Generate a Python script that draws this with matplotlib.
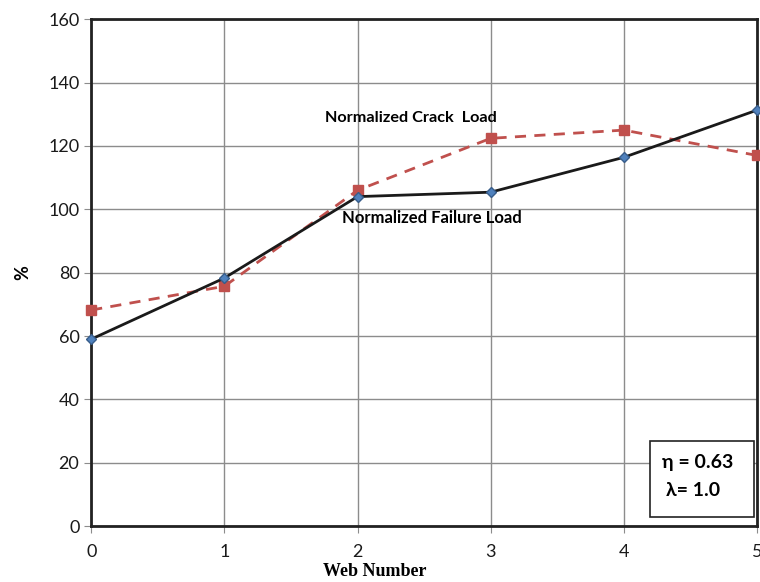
import matplotlib.pyplot as plt
from matplotlib.patches import Rectangle

web_number = [0, 1, 2, 3, 4, 5]
failure_load = [59.0, 78.3, 104.0, 105.4, 116.4, 131.3]
crack_load = [68.2, 75.7, 106.0, 122.4, 125.0, 117.0]
y_ticks = [0, 20, 40, 60, 80, 100, 120, 140, 160]

fig = plt.figure(figsize=(7.6, 5.82), dpi=100)
ax = fig.add_axes([0.12, 0.096, 0.876, 0.871])

ax.plot(web_number, crack_load, color="#C0504D", linestyle=(0, (4, 3)), linewidth=2,
        marker="s", markersize=7, markerfacecolor="#C0504D", markeredgecolor="#C0504D",
        zorder=3, clip_on=False)
ax.plot(web_number, failure_load, color="#1a1a1a", linewidth=2,
        marker="D", markersize=5, markerfacecolor="#4F81BD", markeredgecolor="#385D8A",
        zorder=4, clip_on=False)

ax.set_xlim(0, 5)
ax.set_ylim(0, 160)
ax.set_xticks(web_number)
ax.set_yticks(y_ticks)
ax.grid(True, color="#8c8c8c", linewidth=1)
ax.set_axisbelow(True)

for side in ["left", "bottom", "top", "right"]:
    ax.spines[side].set_color("#222222")
    ax.spines[side].set_linewidth(2)

ax.tick_params(axis="both", direction="out", length=5, color="#8c8c8c",
               labelsize=13, labelcolor="#1a1a1a")
for lab in ax.get_xticklabels() + ax.get_yticklabels():
    lab.set_fontfamily("Lato")
ax.tick_params(axis="x", pad=8)

# x label sits left of centre in the original
ax.set_xlabel("Web Number", fontsize=13, fontweight="bold", family="Liberation Serif")
ax.xaxis.set_label_coords(2.13 / 5, -0.072)
ax.set_ylabel("%", fontsize=13, fontweight="bold", family="Lato", labelpad=12)

ax.text(2.40, 128.7, "Normalized Crack  Load", fontsize=11.7, fontweight="bold",
        family="Lato", ha="center", va="center")
ax.text(2.56, 97.2, "Normalized Failure Load", fontsize=12, fontweight="bold",
        family="Lato", ha="center", va="center")

box = Rectangle((4.2, 2.8), 0.775, 24.0, fill=True, facecolor="white",
                edgecolor="#222222", linewidth=1.2, zorder=5)
ax.add_patch(box)
ax.text(4.29, 20.0, "\u03b7 = 0.63", fontsize=14, fontweight="bold", family="Lato",
        ha="left", va="center", zorder=6)
ax.text(4.32, 11.2, "\u03bb= 1.0", fontsize=14, fontweight="bold", family="Lato",
        ha="left", va="center", zorder=6)

fig.savefig("out.png", dpi=100)
